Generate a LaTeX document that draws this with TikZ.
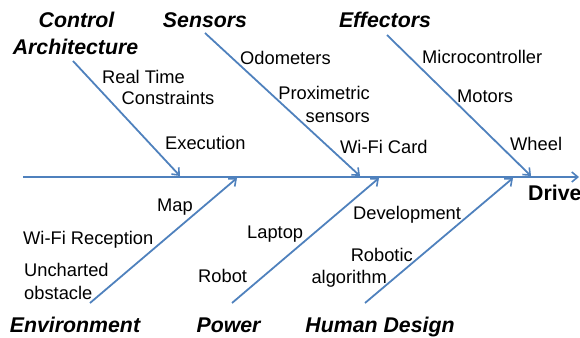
\documentclass[tikz,border=0pt]{standalone}
\usepackage{fontspec}
\setmainfont{Liberation Sans}
\usetikzlibrary{arrows.meta}
\definecolor{bone}{HTML}{4F81BD}
\begin{document}
\begin{tikzpicture}[x=1pt,y=-1pt,
  bonearrow/.style={draw=bone,line width=1.8pt,-{Straight Barb[length=6pt,width=10pt,line width=1.6pt]}},
  sub/.style={inner sep=0pt,font=\fontsize{18.3}{21}\selectfont},
  cat/.style={inner sep=0pt,font=\fontsize{21.3}{24}\selectfont\bfseries\itshape},
  eff/.style={inner sep=0pt,font=\fontsize{21.3}{24}\selectfont\bfseries}]
\useasboundingbox (0,0) rectangle (580,337);
% spine
\coordinate (s0) at (23,177);
\coordinate (s1) at (579,177);
\draw[bonearrow] (s0) -- (s1);
% bones
\coordinate (ca0) at (73,61);   \coordinate (ca1) at (180,176);
\coordinate (se0) at (205,33);  \coordinate (se1) at (360,176);
\coordinate (ef0) at (387,35);  \coordinate (ef1) at (531,176);
\coordinate (en0) at (90,303);  \coordinate (en1) at (237,178);
\coordinate (po0) at (232,303); \coordinate (po1) at (379,178);
\coordinate (hd0) at (365,303); \coordinate (hd1) at (513,178);
\draw[bonearrow] (ca0) -- (ca1);
\draw[bonearrow] (se0) -- (se1);
\draw[bonearrow] (ef0) -- (ef1);
\draw[bonearrow] (en0) -- (en1);
\draw[bonearrow] (po0) -- (po1);
\draw[bonearrow] (hd0) -- (hd1);
% categories
\node[cat,anchor=base] (tc1) at (76.5,27.3) {Control};
\node[cat,anchor=base] (tc2) at (75.5,54.3) {Architecture};
\node[cat,anchor=base] (tse) at (205,27.3) {Sensors};
\node[cat,anchor=base] (tef) at (385,27.3) {Effectors};
\node[cat,anchor=base] (ten) at (75,332.3) {Environment};
\node[cat,anchor=base] (tpo) at (228.5,332.3) {Power};
\node[cat,anchor=base] (thd) at (380,332.3) {Human Design};
\node[eff,anchor=base west] (drv) at (528,200.3) {Drive};
% sub causes
\node[sub,anchor=base] (rt) at (143.5,83.5) {Real Time};
\node[sub,anchor=base] (co) at (168,104.5) {Constraints};
\node[sub,anchor=base west] (ex) at (165,149.5) {Execution};
\node[sub,anchor=base west] (od) at (240,64.5) {Odometers};
\node[sub,anchor=base east] (pr) at (370,99.5) {Proximetric};
\node[sub,anchor=base east] (sn) at (370,122.5) {sensors};
\node[sub,anchor=base west] (wc) at (340,153.5) {Wi-Fi Card};
\node[sub,anchor=base west] (mc) at (422,63.5) {Microcontroller};
\node[sub,anchor=base west] (mo) at (457,102.5) {Motors};
\node[sub,anchor=base west] (wh) at (510,150.5) {Wheel};
\node[sub,anchor=base west] (mp) at (157,211.5) {Map};
\node[sub,anchor=base west] (wr) at (23,244.5) {Wi-Fi Reception};
\node[sub,anchor=base west] (un) at (24,276.5) {Uncharted};
\node[sub,anchor=base west] (ob) at (24,299.5) {obstacle};
\node[sub,anchor=base west] (lp) at (247,238.5) {Laptop};
\node[sub,anchor=base west] (rb) at (198,282.5) {Robot};
\node[sub,anchor=base west] (dv) at (353,219.5) {Development};
\node[sub,anchor=base east] (ro) at (413,261.5) {Robotic};
\node[sub,anchor=base east] (al) at (387,283.5) {algorithm};
\end{tikzpicture}
\end{document}
